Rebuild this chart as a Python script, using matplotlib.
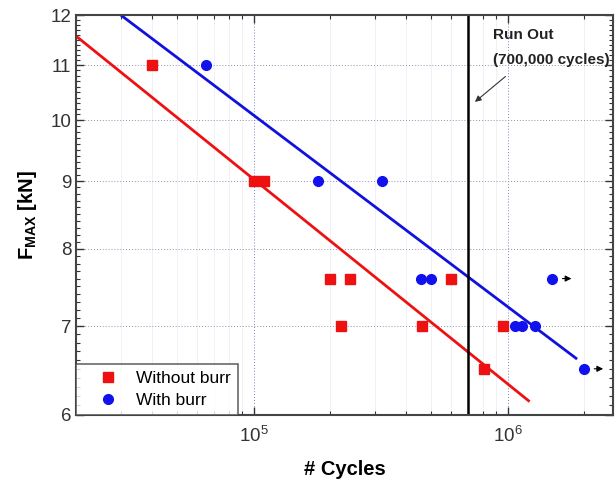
import numpy as np
import matplotlib
matplotlib.use('Agg')
import matplotlib.pyplot as plt
from matplotlib.ticker import FixedLocator, FixedFormatter, NullFormatter, LogLocator

plt.rcParams['font.family'] = ['Liberation Sans', 'DejaVu Sans']
plt.rcParams['mathtext.fontset'] = 'custom'
plt.rcParams['mathtext.rm'] = 'Liberation Sans'
plt.rcParams['mathtext.bf'] = 'Liberation Sans:bold'

# without burr (red squares)
n_wo = [4.0e4, 1.0e5, 1.1e5, 2.0e5, 2.4e5, 6.0e5, 2.2e5, 4.6e5, 9.6e5, 8.1e5]
f_wo = [11, 9, 9, 7.6, 7.6, 7.6, 7, 7, 7, 6.5]
# with burr (blue circles)
n_w = [6.5e4, 1.8e5, 3.2e5, 4.55e5, 5.0e5, 1.5e6, 1.07e6, 1.14e6, 1.28e6, 2.0e6]
f_w = [11, 9, 9, 7.6, 7.6, 7.6, 7, 7, 7, 6.5]
# run-outs (arrows)
n_runout = [1.5e6, 2.0e6]
f_runout = [7.6, 6.5]

# fitted lines (end points)
fit_wo_n = [2.0e4, 1.21e6]
fit_wo_f = [11.57, 6.15]
fit_w_n = [3.0e4, 1.86e6]
fit_w_f = [12.0, 6.62]

run_out = 7.0e5

fig = plt.figure(figsize=(6.16, 4.84), dpi=100)
ax = fig.add_axes([0.1234, 0.1426, 0.8716, 0.8264])

ax.set_xscale('log')
ax.set_yscale('log')
ax.set_xlim(2e4, 2.6e6)
ax.set_ylim(6, 12)

# grid
for m in [3e4, 4e4, 5e4, 6e4, 7e4, 8e4, 9e4, 2e5, 3e5, 4e5, 5e5, 6e5, 7e5, 8e5, 9e5, 2e6]:
    ax.axvline(m, color='#f0f0f6', lw=0.7, zorder=0)
for xv in [1e5, 1e6]:
    ax.axvline(xv, color='#8080c0', lw=0.7, ls=(0, (1, 2)), zorder=0)
for yv in [7, 8, 9, 10, 11]:
    ax.axhline(yv, color='#9090b0', lw=0.7, ls=(0, (1, 2)), zorder=0)

ax.plot(fit_wo_n, fit_wo_f, color='#ee1111', lw=2, zorder=2)
ax.plot(fit_w_n, fit_w_f, color='#1111dd', lw=2, zorder=2)

ax.plot(n_wo, f_wo, 's', color='#ee1111', ms=6.5, ls='none', label='Without burr', zorder=3)
ax.plot(n_w, f_w, 'o', color='#1111ee', ms=7, ls='none', label='With burr', zorder=3)

ax.axvline(run_out, color='black', lw=1.8, zorder=2)

for n, f in zip(n_runout, f_runout):
    ax.annotate('', xy=(n * 1.22, f), xytext=(n * 1.07, f),
                arrowprops=dict(arrowstyle='-|>', color='black', lw=0.8,
                                mutation_scale=9))

ax.text(8.74e5, 11.60, 'Run Out', fontsize=11, fontweight='bold', va='center', color='#222222')
ax.text(8.74e5, 11.10, '(700,000 cycles)', fontsize=11, fontweight='bold', va='center', color='#222222')
ax.annotate('', xy=(7.3e5, 10.29), xytext=(1.0e6, 10.82),
            arrowprops=dict(arrowstyle='-|>', color='#333333', lw=0.8,
                            mutation_scale=9))

ax.yaxis.set_major_locator(FixedLocator([6, 7, 8, 9, 10, 11, 12]))
ax.yaxis.set_major_formatter(FixedFormatter(['6', '7', '8', '9', '10', '11', '12']))
ax.yaxis.set_minor_locator(FixedLocator(np.arange(6.1, 12, 0.1)))
ax.yaxis.set_minor_formatter(NullFormatter())
ax.xaxis.set_major_locator(LogLocator(base=10))
ax.xaxis.set_minor_locator(LogLocator(base=10, subs=np.arange(2, 10)))
ax.xaxis.set_minor_formatter(NullFormatter())

ax.tick_params(which='both', direction='in', top=True, right=True, labelsize=13.5, colors='#333333')
ax.tick_params(which='major', length=6, width=1)
ax.tick_params(which='minor', length=3, width=0.8)
ax.tick_params(axis='x', pad=8)
for s in ax.spines.values():
    s.set_linewidth(1.5)
    s.set_color('#444444')

ax.set_xlabel('# Cycles', fontsize=14.5, fontweight='bold', labelpad=10)
ax.set_ylabel(r'$\mathbf{F_{MAX}}$ [kN]', fontsize=14.5, fontweight='bold', labelpad=8)

leg = ax.legend(loc='lower left', fontsize=12.5, frameon=True, fancybox=False,
                edgecolor='#444444', borderaxespad=0, handletextpad=0.15,
                borderpad=0.4, handlelength=2.9, labelspacing=0.4)
leg.get_frame().set_linewidth(1.2)

fig.savefig('out.png', dpi=100)
